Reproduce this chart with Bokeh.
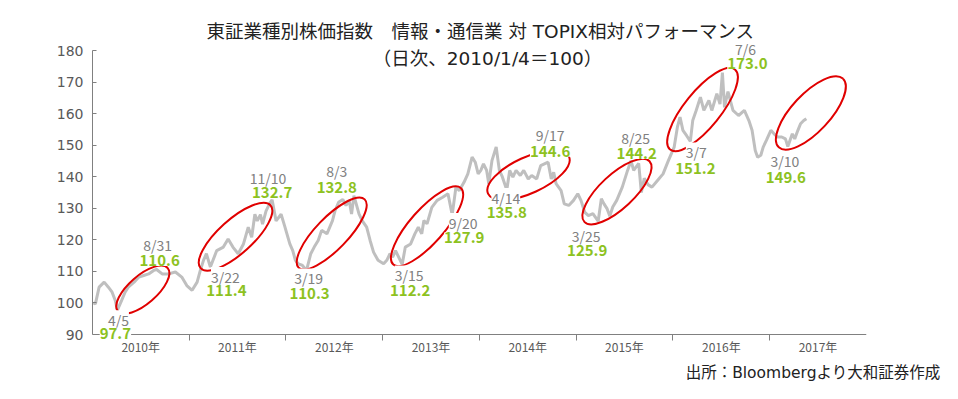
import pandas as pd
from bokeh.plotting import figure
from bokeh.core.properties import value
from bokeh.models import (ColumnDataSource, Range1d, FixedTicker,
                          DatetimeTickFormatter, LabelSet, Label, Title)
from bokeh.embed import file_html
from bokeh.resources import INLINE

# ---------------- data ----------------
dates = [
    "2010-01-04", "2010-01-12", "2010-01-26", "2010-02-14", "2010-03-02", "2010-03-16",
    "2010-03-28", "2010-04-05", "2010-04-21", "2010-05-04", "2010-05-16", "2010-06-07",
    "2010-06-25", "2010-07-13", "2010-08-01", "2010-08-20", "2010-08-31", "2010-09-21",
    "2010-10-15", "2010-11-10", "2010-12-04", "2010-12-23",
    "2011-01-12", "2011-01-31", "2011-02-12", "2011-02-24", "2011-03-07", "2011-03-22",
    "2011-04-15", "2011-05-10", "2011-05-28", "2011-06-15", "2011-07-05", "2011-07-25",
    "2011-08-12", "2011-08-25", "2011-09-06", "2011-09-15", "2011-09-27", "2011-10-05",
    "2011-10-18", "2011-11-02", "2011-11-10", "2011-11-25", "2011-12-14", "2011-12-27",
    "2012-01-05", "2012-01-16", "2012-01-27", "2012-02-06", "2012-02-17", "2012-03-02",
    "2012-03-19", "2012-04-04", "2012-04-17", "2012-05-02", "2012-05-15", "2012-06-04",
    "2012-06-25", "2012-07-05", "2012-07-18", "2012-08-03", "2012-08-15", "2012-08-27",
    "2012-09-05", "2012-09-14", "2012-10-03", "2012-10-15", "2012-11-01", "2012-11-14",
    "2012-11-27", "2012-12-14",
    "2013-01-04", "2013-01-16", "2013-01-28", "2013-02-07", "2013-02-18", "2013-03-15",
    "2013-03-27", "2013-04-16", "2013-05-02", "2013-05-15", "2013-05-28", "2013-06-05",
    "2013-06-17", "2013-07-05", "2013-07-25", "2013-08-15", "2013-09-04", "2013-09-20",
    "2013-10-04", "2013-10-17", "2013-11-04", "2013-11-18", "2013-12-04", "2013-12-16",
    "2013-12-27",
    "2014-01-06", "2014-01-16", "2014-01-28", "2014-02-05", "2014-02-17", "2014-03-05",
    "2014-03-17", "2014-03-28", "2014-04-14", "2014-04-25", "2014-05-07", "2014-05-19",
    "2014-06-04", "2014-06-17", "2014-07-04", "2014-07-17", "2014-08-05", "2014-08-20",
    "2014-09-17", "2014-09-29", "2014-10-08", "2014-10-17", "2014-11-05", "2014-11-17",
    "2014-12-04", "2014-12-22",
    "2015-01-07", "2015-01-19", "2015-02-02", "2015-02-16", "2015-03-05", "2015-03-25",
    "2015-04-06", "2015-04-16", "2015-04-28", "2015-05-08", "2015-05-19", "2015-06-03",
    "2015-06-24", "2015-07-14", "2015-07-27", "2015-08-06", "2015-08-25", "2015-09-04",
    "2015-09-15", "2015-09-29", "2015-10-14", "2015-11-04", "2015-11-25", "2015-12-15",
    "2016-01-06", "2016-01-18", "2016-01-28", "2016-02-08", "2016-02-22", "2016-03-07",
    "2016-03-16", "2016-03-29", "2016-04-14", "2016-04-27", "2016-05-16", "2016-05-27",
    "2016-06-15", "2016-06-27", "2016-07-06", "2016-07-14", "2016-07-27", "2016-08-15",
    "2016-09-05", "2016-09-27", "2016-10-14", "2016-10-26", "2016-11-07", "2016-11-16",
    "2016-11-28", "2016-12-07", "2016-12-19",
    "2017-01-05", "2017-01-17", "2017-01-30", "2017-02-15", "2017-03-01", "2017-03-10",
    "2017-03-27", "2017-04-05", "2017-04-17", "2017-04-27", "2017-05-09", "2017-05-19",
]
values = [
    100.0, 99.7, 105.0, 106.6, 105.0, 103.4,
    100.8, 97.7, 100.8, 103.4, 105.0, 106.6,
    108.2, 108.7, 109.2, 110.3, 110.6, 109.2,
    109.2, 109.8, 108.2, 105.5,
    104.0, 106.6, 110.3, 113.5, 115.6, 111.4,
    116.6, 117.7, 120.3, 117.7, 115.6, 118.7,
    124.0, 120.8, 128.1, 126.0, 128.0, 125.0,
    129.1, 131.7, 132.7, 126.0, 128.1, 124.5,
    121.9, 118.7, 116.6, 113.5, 112.4, 112.0,
    110.3, 115.6, 117.7, 119.8, 123.0, 121.9,
    126.1, 129.3, 131.9, 132.8, 130.9, 132.5,
    128.2, 134.0, 128.2, 126.1, 124.0, 119.8,
    116.1, 113.5,
    112.4, 113.5, 115.6, 114.5, 116.6, 112.2,
    117.7, 118.7, 121.9, 124.0, 121.9, 126.1,
    125.1, 130.3, 132.5, 133.5, 134.6, 127.9,
    136.7, 135.6, 138.3, 140.9, 146.2, 144.6,
    140.9,
    142.0, 144.1, 142.0, 137.8, 145.1, 149.4,
    142.0, 140.0, 135.8, 142.0, 139.9, 142.0,
    140.4, 142.0, 139.3, 140.4, 139.3, 143.5,
    144.6, 139.3, 141.4, 137.8, 135.6, 131.4,
    130.9, 132.5,
    134.6, 132.5, 128.8, 127.7, 128.3, 125.9,
    133.0, 131.4, 129.8, 127.5, 130.4, 132.5,
    136.7, 142.0, 145.1, 142.0, 144.2, 135.0,
    139.5, 137.5, 136.7, 138.8, 140.9, 145.1,
    149.4, 155.7, 158.9, 154.7, 153.0, 151.2,
    157.8, 161.0, 165.2, 161.0, 164.2, 161.0,
    166.3, 163.0, 173.0, 162.0, 167.0, 161.0,
    159.4, 161.0, 157.8, 154.7, 148.3, 146.2,
    146.8, 149.4, 151.5,
    154.7, 153.6, 152.6, 152.6, 152.0, 149.6,
    153.6, 152.0, 154.7, 156.8, 157.8, 158.4,
]

# annotated points
ann_dates = ["2010-04-05", "2010-08-31", "2011-03-22", "2011-11-10", "2012-03-19",
             "2012-08-03", "2013-03-15", "2013-09-20", "2014-04-14", "2014-09-17",
             "2015-03-25", "2015-08-25", "2016-03-07", "2016-07-06", "2017-03-10"]
ann_values = [97.7, 110.6, 111.4, 132.7, 110.3, 132.8, 112.2, 127.9, 135.8, 144.6,
              125.9, 144.2, 151.2, 173.0, 149.6]
ann_date_text = ["4/5", "8/31", "3/22", "11/10", "3/19", "8/3", "3/15", "9/20", "4/14",
                 "9/17", "3/25", "8/25", "3/7", "7/6", "3/10"]

y_ticks = [90, 100, 110, 120, 130, 140, 150, 160, 170, 180]
years = [2010, 2011, 2012, 2013, 2014, 2015, 2016, 2017]

title_1 = "東証業種別株価指数　情報・通信業 対 TOPIX相対パフォーマンス"
title_2 = "（日次、2010/1/4＝100）"
source_text = "出所：Bloombergより大和証券作成"

# ---------------- layout / style (not data) ----------------
# label offsets in pixels (dx right, dy down)
date_dx = [1, 1, 15, -4, 2, -6, 7, 11, -1, 2, -12, -3, 6, 23, -3]
date_dy = [10, -24, 10, -22, 8, -28, 11, 8, 8, -27, 15, -25, 11, -24, 15]
val_dx = [-2, 3, 16, 0, 3, -6, 8, 12, 0, 2, -11, -2, 5, 25, -2]
val_dy = [23, -9, 24, -7, 23, -12, 26, 23, 23, -11, 29, -10, 27, -9, 31]

# red ellipses: centre (date, value), size in px, angle in degrees
ell_dates = ["2010-07-10", "2011-06-25", "2012-06-22", "2013-06-17",
             "2014-07-05", "2015-06-04", "2016-04-22", "2017-06-05"]
ell_values = [104.2, 121.0, 122.0, 124.3, 140.5, 135.3, 161.3, 160.2]
ell_w = [66, 94, 95, 102, 89, 89, 103, 94]
ell_h = [28, 34, 32, 34, 36, 34, 36, 38]
ell_angle = [41, 42, 46, 48.6, 24.5, 43, 51, 47]

JPF = "Noto Sans CJK JP"
MIX = "DejaVu Sans, Noto Sans CJK JP"
GREEN = "#8DC21F"
AXIS = "#808080"
PX_PER_UNIT = 284 / 90.0
PAD_TOP, PAD_BOTTOM = 50, 27          # frame room above 180 / below 90 (px)
Y_TOP = y_ticks[-1] + PAD_TOP / PX_PER_UNIT
Y_BOT = y_ticks[0] - PAD_BOTTOM / PX_PER_UNIT
FRAME_H = 284 + PAD_TOP + PAD_BOTTOM


def ms(ts):
    return pd.Timestamp(ts).value // 10**6


p = figure(width=950, height=399, output_backend="svg", toolbar_location=None,
           x_axis_type="datetime",
           x_range=Range1d(pd.Timestamp("2010-01-01"), pd.Timestamp("2018-01-01")),
           y_range=Range1d(Y_BOT, Y_TOP),
           min_border_left=92, min_border_right=84, min_border_top=0,
           min_border_bottom=399 - FRAME_H)
p.outline_line_color = None
p.grid.visible = False
p.background_fill_color = "white"
p.border_fill_color = "white"

src = ColumnDataSource(dict(x=pd.to_datetime(dates), y=values))
p.line("x", "y", source=src, line_color="#BFBFBF", line_width=3)

esrc = ColumnDataSource(dict(x=pd.to_datetime(ell_dates), y=ell_values,
                             w=ell_w, h=ell_h, a=ell_angle))
p.ellipse(x="x", y="y", width="w", height="h", angle="a", source=esrc,
          width_units="screen", height_units="screen", angle_units="deg",
          fill_color=None, line_color="#E00000", line_width=2)

asrc = ColumnDataSource(dict(
    x=pd.to_datetime(ann_dates), y=ann_values, dt=ann_date_text,
    vt=["%.1f" % v for v in ann_values],
    ddx=date_dx, ddy=[-d for d in date_dy], vdx=val_dx, vdy=[-d for d in val_dy]))
p.add_layout(LabelSet(x="x", y="y", text="dt", x_offset="ddx", y_offset="ddy", source=asrc,
                      text_font=value(JPF), text_font_size=value("14px"),
                      text_color=value("#808080"),
                      text_align="center", text_baseline="middle",
                      background_fill_color="white"))
p.add_layout(LabelSet(x="x", y="y", text="vt", x_offset="vdx", y_offset="vdy", source=asrc,
                      text_font=value(JPF), text_font_size=value("15px"),
                      text_font_style=value("bold"),
                      text_color=value(GREEN), text_align="center", text_baseline="middle",
                      background_fill_color="white"))

# axes
xa = p.xaxis[0]
xa.fixed_location = y_ticks[0]
xa.ticker = FixedTicker(ticks=[ms(f"{y}-07-02") for y in years],
                        minor_ticks=[ms(f"{y}-01-01") for y in years[1:]])
fmt = "%Y年"
xa.formatter = DatetimeTickFormatter(microseconds=fmt, milliseconds=fmt, seconds=fmt,
                                     minsec=fmt, minutes=fmt, hourmin=fmt, hours=fmt,
                                     days=fmt, months=fmt, years=fmt)
xa.axis_line_color = AXIS
xa.major_tick_line_color = None
xa.major_tick_out = 0
xa.major_tick_in = 0
xa.minor_tick_line_color = AXIS
xa.minor_tick_out = 6
xa.minor_tick_in = 0
xa.major_label_standoff = -3
xa.major_label_text_font = JPF
xa.major_label_text_font_size = "12px"
xa.major_label_text_color = "#595959"

ya = p.yaxis[0]
ya.ticker = FixedTicker(ticks=y_ticks)
ya.bounds = (y_ticks[0], y_ticks[-1])
ya.axis_line_color = AXIS
ya.major_tick_line_color = AXIS
ya.major_tick_in = 4
ya.major_tick_out = 0
ya.minor_tick_line_color = None
ya.major_label_standoff = 9
ya.major_label_text_font = "DejaVu Sans"
ya.major_label_text_font_size = "14px"
ya.major_label_text_color = "#595959"

# titles (screen units, relative to the plot frame's bottom-left corner)
p.add_layout(Label(x=388, y=FRAME_H - 31, x_units="screen", y_units="screen", text=title_1,
                   text_font=MIX, text_font_size="18.5px", text_color="#222222",
                   text_align="center", text_baseline="middle"))
p.add_layout(Label(x=395, y=FRAME_H - 58, x_units="screen", y_units="screen", text=title_2,
                   text_font=MIX, text_font_size="18.5px", text_color="#222222",
                   text_align="center", text_baseline="middle"))
p.add_layout(Title(text=source_text, align="right", offset=-74, standoff=0,
                   text_font=MIX, text_font_size="15.5px", text_font_style="normal",
                   text_color="#222222"), "below")

open("out.html", "w").write(file_html(p, INLINE))
